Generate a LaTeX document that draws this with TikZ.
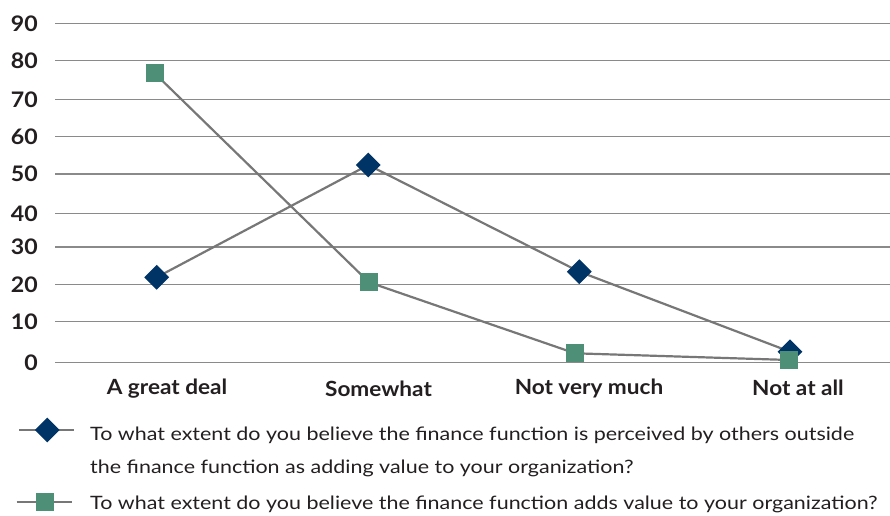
\documentclass[tikz,border=0pt]{standalone}
\usepackage{fontspec}
\setmainfont{Lato}
\newfontfamily\labfont[FakeStretch=1.08]{Lato Bold}
\newfontfamily\legfont[FakeStretch=1.165]{Lato}
\usetikzlibrary{shapes.geometric}
\definecolor{navy}{HTML}{003366}
\definecolor{sgreen}{HTML}{4E8F78}
\definecolor{lgray}{HTML}{777777}
\definecolor{ggray}{HTML}{8A8A8A}
\definecolor{txt}{HTML}{231F20}
\begin{document}
\begin{tikzpicture}[x=1bp,y=-1bp,
  grid/.style={ggray,line width=1.5bp},
  serline/.style={lgray,line width=2.2bp},
  dia/.style={diamond,fill=navy,draw=none,minimum width=25bp,minimum height=25bp,inner sep=0pt},
  sq/.style={rectangle,fill=sgreen,draw=none,minimum width=18bp,minimum height=18bp,inner sep=0pt},
  ylab/.style={anchor=east,font=\labfont\fontsize{21.5}{24}\selectfont,text=txt,inner sep=0pt},
  xlab/.style={anchor=base,font=\labfont\fontsize{21}{24}\selectfont,text=txt,inner sep=0pt},
  leg/.style={anchor=base west,font=\legfont\fontsize{18.5}{22}\selectfont,text=txt,inner sep=0pt}]
\useasboundingbox (0,0) rectangle (890,516);
% gridlines and y labels
\foreach \v/\y in {90/23.3,80/60.3,70/99.3,60/136.7,50/174,40/213.3,30/247,20/284.3,10/321.7,0/362.7}{
  \coordinate (gl\v) at (55,\y);
  \coordinate (gr\v) at (890,\y);
  \draw[grid] (gl\v) -- (gr\v);
  \node[ylab] (yl\v) at (38,\y) {\v};
}
% x labels
\node[xlab] (c1) at (167,394.5) {A great deal};
\node[xlab] (c2) at (378.5,396.5) {Somewhat};
\node[xlab] (c3) at (589,394.5) {Not very much};
\node[xlab] (c4) at (798,395.5) {Not at all};
% series coordinates
\coordinate (d1) at (156.7,277.3);
\coordinate (d2) at (368.3,165);
\coordinate (d3) at (579.3,271.7);
\coordinate (d4) at (790,351.7);
\coordinate (s1) at (154.7,73.3);
\coordinate (s2) at (369,282.3);
\coordinate (s3) at (575,353.3);
\coordinate (s4) at (789.3,360);
% series lines
\draw[serline] (d1) -- (d2) -- (d3) -- (d4);
\node[dia] (D1) at (d1) {};
\node[dia] (D2) at (d2) {};
\node[dia] (D3) at (d3) {};
\node[dia] (D4) at (d4) {};
\draw[serline] (s1) -- (s2) -- (s3) -- (s4);
\node[sq] (S1) at (s1) {};
\node[sq] (S2) at (s2) {};
\node[sq] (S3) at (s3) {};
\node[sq] (S4) at (s4) {};
% legend
\coordinate (la1) at (19.3,430);
\coordinate (lb1) at (74,430);
\draw[serline] (la1) -- (lb1);
\node[dia] (LD) at (47.3,430) {};
\node[leg] (lt1) at (90,440) {To what extent do you believe the finance function is perceived by others outside};
\node[leg] (lt2) at (90,473) {the finance function as adding value to your organization?};
\coordinate (la2) at (16.7,502.3);
\coordinate (lb2) at (71.7,502.3);
\draw[serline] (la2) -- (lb2);
\node[sq] (LS) at (45,502.3) {};
\node[leg] (lt3) at (90,509) {To what extent do you believe the finance function adds value to your organization?};
\end{tikzpicture}
\end{document}
